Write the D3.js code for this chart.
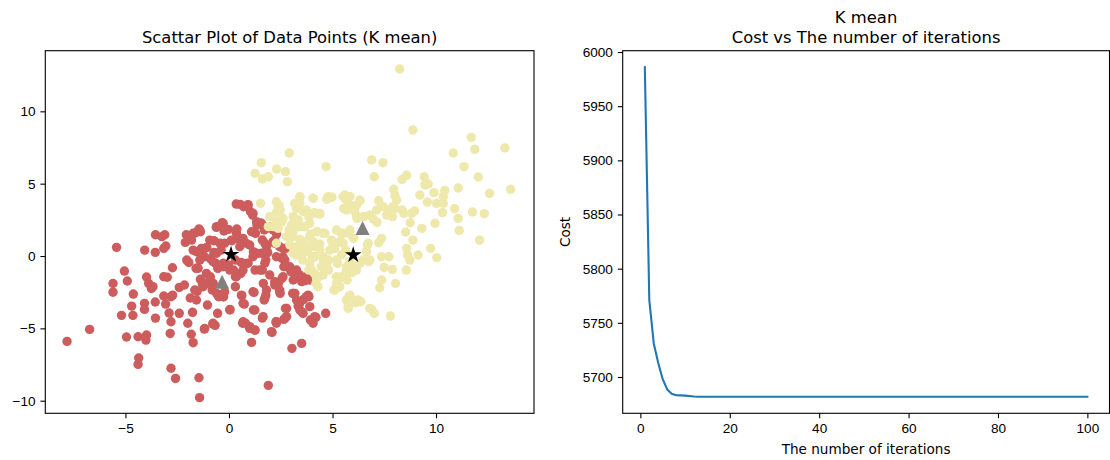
<!DOCTYPE html>
<html>
<head>
<meta charset="utf-8">
<script src="https://cdn.jsdelivr.net/npm/d3@7"></script>
<style>
  body { margin: 0; background: #fff; }
  svg { display: block; font-family: "DejaVu Sans", sans-serif; }
  .tick text { font-size: 13.6px; fill: #000; }
  .tick line { stroke: #000; stroke-width: 1.1; }
</style>
</head>
<body>
<div id="chart"></div>
<script>
// cluster assignments (x, y)
const redPoints = [
  [-7.82,-5.9],[-6.73,-5.07],[-5.43,0.6],[-5.6,-1.9],[-5.6,-2.5],[-5.05,-1.04],[-4.91,-1.73],[-5.19,-4.1],
  [-4.95,-5.6],[-4.7,-3.46],[-4.64,-4.1],[-4.62,-2.63],[-4.36,-7.05],[-4.39,-7.49],[-4.39,-5.58],[-4.07,0.41],
  [-4.08,-3.27],[-4.08,-3.69],[-3.98,-1.45],[-3.98,-5.46],[-4.01,-5.81],[-3.88,-1.89],[-3.75,-2.24],[-3.67,-2.12],
  [-3.56,0.25],[-3.55,-4.29],[-3.56,-3.18],[-3.55,1.47],[-3.24,1.34],[-3.1,1.47],[-3.15,0.53],[-3.05,0.69],
  [-3.15,-1.43],[-2.98,-1.47],[-3.15,-2.76],[-3.06,-3.32],[-2.89,-3.94],[-2.8,-4.54],[-2.8,-2.81],[-2.72,-2.7],
  [-2.73,-0.81],[-2.84,-5.35],[-2.8,-7.76],[-2.58,-8.46],[-2.4,-3.96],[-2.4,-2.17],[-2.15,-2.0],[-2.06,1.47],
  [-2.11,0.94],[-2.04,-0.28],[-1.94,-0.44],[-1.99,-4.65],[-1.87,-2.9],[-1.76,-3.89],[-1.82,-5.41],[-1.73,-5.99],
  [-1.63,1.59],[-1.54,-2.44],[-1.59,-0.85],[-1.45,1.87],[-1.38,1.68],[-1.45,-8.41],[-1.42,-9.79],[-1.51,0.3],
  [-1.33,0.53],[-1.19,-5.05],[-1.18,-0.05],[-1.38,-1.61],[-1.28,-1.94],[-1.04,-3.39],[-1.07,0.6],[-0.9,-0.18],
  [-0.78,-4.7],[-0.67,-4.79],[-0.61,1.98],[-0.73,1.06],[-0.54,-0.85],[-0.55,-3.96],[-0.5,-2.81],[-0.26,-2.81],
  [-0.33,2.3],[-0.24,1.73],[-0.03,1.84],[0.05,-3.69],[0.35,3.59],[0.54,3.57],[0.71,3.41],[0.92,3.55],
  [1.04,3.06],[1.14,2.83],[1.28,1.57],[0.38,1.87],[0.52,1.11],[0.83,0.88],[0.59,-0.44],[0.83,-0.51],
  [0.57,-1.2],[0.62,-2.74],[0.74,-3.32],[0.66,-4.65],[0.8,-4.65],[1.0,-5.0],[1.26,-5.12],[1.09,-5.97],
  [1.18,-3.73],[1.21,-2.51],[1.61,-4.29],[1.66,-1.89],[1.78,-2.7],[1.7,-3.04],[1.9,-8.94],[2.08,-5.28],
  [2.27,-4.54],[2.65,-4.38],[2.73,-3.62],[2.47,-2.58],[2.21,-2.0],[2.39,-1.89],[3.08,-2.58],[3.04,-6.38],
  [3.51,-6.04],[3.34,-3.46],[3.51,-3.85],[3.86,-2.81],[3.6,-3.0],[3.93,-4.42],[4.2,-4.24],[4.67,-3.96],
  [3.51,-1.77],[3.68,-1.7],[3.25,-1.43],[2.99,-1.08],[2.56,-1.54],[2.65,-0.74],[2.56,-0.16],[2.73,0.53],
  [2.21,0.88],[2.3,1.52],[1.7,1.8],[1.61,1.11],[1.73,0.88],[1.87,0.23],[1.78,-0.28],[1.61,-0.97],
  [1.26,-0.97],[1.38,0.18],[1.18,0.3],[1.0,0.76],[1.35,2.14],[1.52,2.26],[1.95,2.03],[2.13,1.8],
  [0.14,1.06],[-0.21,0.88],[-0.38,0.41],[-0.73,0.25],[-0.64,-0.51],[-0.29,-0.74],[-0.03,-0.62],[0.22,-0.97],
  [0.31,-0.28],[-0.9,-1.43],[-0.76,-1.89],[-1.07,-1.89],[-0.81,-2.35],[-0.21,-2.47],[0.31,-2.12],[0.31,-1.43],
  [0.92,3.52],[1.16,2.95],[1.33,2.37],[1.57,2.26],[1.81,1.91],[-0.28,2.26],[-0.6,2.03],[-1.41,1.8],
  [-1.73,1.57],[-0.93,1.1],[-1.17,0.53],[-1.57,0.3],[-1.49,-0.85],[-1.09,-1.2],[-0.93,-1.66],[-1.25,-2.12],
  [-1.65,-2.35],[-1.57,-3.04],[-0.6,-2.58],[-0.28,-2.81],[0.04,-3.73],[-1.17,-5.0],[-0.77,-4.65],[0.6,-2.7],
  [0.68,-3.27],[1.16,-2.47],[1.25,-3.73],[0.68,-4.54],[1.0,-4.88],[1.25,-5.11],[1.65,-4.19],[2.05,-5.23],
  [2.29,-4.54],[2.7,-4.31],[1.73,-2.93],[1.81,-2.35],[2.45,-2.35],[2.21,-1.78],[2.78,-3.62],[3.1,-2.58],
  [3.26,-3.04],[3.42,-3.73],[3.82,-2.7],[3.99,-4.42],[3.66,-1.66],[3.26,-1.43],[2.78,-0.74],[2.61,-0.05],
  [2.45,0.64],[2.13,0.99],[1.81,0.64],[1.57,0.19],[1.73,-0.5],[1.49,-0.97],[1.97,-1.31],[1.16,-0.05],
  [0.92,-0.5],[0.68,-0.97],[0.52,0.64],[0.68,1.22],[1.09,1.68],[0.36,1.57],[0.12,1.1],[-0.44,0.88],
  [-0.6,0.19],[-0.77,-0.39],[-0.28,-0.5],[0.04,-0.97],[0.36,-1.43],[-1.41,-0.28],[-1.81,1.1],[-1.73,0.41],
  [2.21,1.1],[2.61,0.53],[2.29,-0.05],[2.7,-0.28],[2.94,-0.74],[3.26,-0.97],[3.42,-1.31],[3.74,-1.43],
  [3.9,-1.66],[3.1,-1.66],[2.61,-1.43],[2.29,-1.89],[2.45,-2.47],[3.18,-2.58],[3.42,-3.27],[3.74,-2.81],
  [3.9,-3.5],[3.58,-3.96],[4.14,-4.19],[4.06,-4.65],[2.78,-4.19],[2.29,-4.65]
];

const yellowPoints = [
  [8.24,12.93],[8.88,8.71],[11.7,8.2],[11.87,7.37],[10.83,7.12],[13.32,7.47],[11.35,6.18],[12.04,5.46],
  [11.07,4.7],[13.6,4.61],[12.58,4.33],[10.42,4.54],[9.9,4.38],[9.43,5.48],[9.48,4.98],[9.62,4.98],
  [9.22,4.22],[9.58,3.73],[10.35,4.1],[10.35,3.64],[10.31,3.0],[10.9,3.27],[11.07,2.6],[11.76,3.04],
  [12.33,2.93],[11.12,1.77],[12.1,1.1],[9.95,2.26],[9.31,1.91],[8.75,2.3],[8.88,1.1],[8.53,1.66],
  [8.58,0.53],[9.74,0.53],[10.03,-0.12],[9.13,0.07],[8.62,0.07],[8.56,-0.97],[8.04,-1.89],[7.8,-4.15],
  [7.37,-1.66],[7.28,-2.19],[7.49,-0.78],[7.89,-0.92],[7.72,-0.05],[7.37,-0.05],[7.37,1.22],[7.23,0.92],
  [7.15,2.33],[7.23,3.82],[7.44,6.45],[6.89,6.64],[7.02,5.48],[7.96,4.61],[8.01,4.17],[8.1,3.87],
  [8.36,5.3],[8.58,5.58],[7.92,3.41],[7.75,3.18],[7.61,2.83],[7.89,2.72],[8.36,3.18],[8.44,2.95],
  [8.96,3.11],[6.8,2.83],[6.97,2.56],[6.68,0.76],[6.75,-0.39],[6.33,3.82],[6.19,2.6],[6.51,2.72],
  [5.8,4.1],[5.62,3.94],[5.76,3.64],[5.93,3.41],[5.54,3.29],[5.81,1.57],[6.02,1.22],[5.5,1.57],
  [5.36,0.99],[5.64,0.41],[5.93,-0.62],[5.67,-0.74],[5.93,-1.15],[5.55,-1.38],[5.33,-1.54],[5.71,-1.66],
  [5.24,-2.0],[5.07,-2.35],[5.8,-2.81],[5.76,-3.62],[6.11,-3.23],[6.37,-3.16],[6.89,-3.69],[7.02,-3.96],
  [5.07,0.92],[5.02,0.6],[4.78,-0.28],[4.81,-0.97],[4.55,-1.31],[4.33,-1.43],[4.12,-1.2],[4.2,-1.89],
  [4.29,-2.12],[4.69,6.18],[4.72,3.92],[4.98,4.06],[4.07,3.99],[3.43,4.06],[2.91,7.12],[2.73,5.83],
  [2.3,6.01],[1.56,6.45],[1.26,5.71],[1.61,5.32],[1.9,5.48],[2.82,5.14],[1.52,3.64],[2.42,3.48],
  [2.47,3.18],[2.3,3.02],[3.17,3.64],[3.25,3.29],[3.6,3.06],[4.12,3.0],[3.86,2.72],[4.38,2.9],
  [3.34,2.49],[2.3,2.37],[2.56,2.37],[1.9,2.03],[2.91,1.84],[3.65,2.03],[4.26,1.68],[4.55,1.57],
  [3.94,1.52],[3.08,1.34],[3.43,1.15],[3.6,0.76],[4.12,0.65],[4.38,0.83],[3.77,0.3],[3.25,0.07],
  [4.03,-0.09],[3.56,-0.28],[4.55,-0.28],[3.86,-0.97],[4.46,-0.74],[5.24,-0.51],
  [2.37,3.41],[2.29,2.37],[2.37,1.91],[2.94,1.8],[3.1,2.72],[3.42,3.64],[4.06,3.99],[3.66,2.03],
  [4.23,2.95],[4.63,1.57],[5.03,0.76],[3.9,0.64],[3.42,0.19],[4.14,-0.05],[4.71,-0.5],[3.99,-0.97],
  [4.23,-1.54],[5.19,-1.43],[5.35,-2.12],[5.11,-2.35],[5.84,-2.81],[5.75,-3.5],[6.24,-3.04],[5.51,4.1],
  [6.32,3.87],[5.68,3.18],[6.16,2.72],[5.19,1.8],[5.51,0.88],[6.48,-0.28],[5.19,-0.28],
  [7.44,3.41],[7.13,3.18],[8.01,3.29],[8.82,2.95],[10.02,3.64],[9.46,4.91],[8.73,-0.28],[6.72,0.88],
  [6.64,0.3],[6.8,-0.28],[6.32,-0.5],[5.84,-0.39],[6.16,-0.97],[5.67,-1.08],[5.43,-1.43],[5.19,-1.89],
  [5.84,-2.7],[5.67,-3.04],[6.16,-3.16],[6.8,-3.62],[4.63,-0.74],[4.79,-0.28],[4.87,0.41],[5.03,0.99],
  [5.43,1.57],[5.84,1.8],[3.9,-0.5],[4.55,-0.05],[4.39,0.41],[4.06,-0.05],[5.11,0.53],[4.95,1.1],
  [4.23,1.68],[3.9,1.34],[3.58,0.99],[3.26,0.64],[3.5,-0.05],[3.1,0.19],[2.94,0.76],[3.9,2.26],
  [3.42,2.03],[3.1,1.68],[2.78,1.34],[2.29,0.88],[2.29,2.26],[1.97,2.72],[4.39,2.95],[3.74,3.18],
  [3.26,3.64],[3.42,4.1],[4.79,4.1],[5.59,4.22],[5.84,4.1],[5.75,3.41],[6.16,3.52],[6.48,2.72],
  [6.08,3.06],[2.61,2.61],[2.45,3.18],[2.29,3.75],[2.13,2.03],[3.02,2.14],[4.06,0.99],[5.43,0.07]
];

const initialCentroids = [[-0.33, -1.78], [6.45, 1.94]];
const finalCentroids = [[0.1, 0.1], [6.0, 0.07]];

const scatterXTicks = [-5, 0, 5, 10];
const scatterYTicks = [-10, -5, 0, 5, 10];

// cost per iteration
const iterations = d3.range(1, 101);
const cost = [
  5986, 5771, 5731, 5713, 5698, 5688.5, 5684.5, 5683.2, 5683, 5682.8,
  5682.4, 5682, 5681.8, 5681.7, 5681.7, 5681.7, 5681.7, 5681.7, 5681.7, 5681.7,
  5681.7, 5681.7, 5681.7, 5681.7, 5681.7, 5681.7, 5681.7, 5681.7, 5681.7, 5681.7,
  5681.7, 5681.7, 5681.7, 5681.7, 5681.7, 5681.7, 5681.7, 5681.7, 5681.7, 5681.7,
  5681.7, 5681.7, 5681.7, 5681.7, 5681.7, 5681.7, 5681.7, 5681.7, 5681.7, 5681.7,
  5681.7, 5681.7, 5681.7, 5681.7, 5681.7, 5681.7, 5681.7, 5681.7, 5681.7, 5681.7,
  5681.7, 5681.7, 5681.7, 5681.7, 5681.7, 5681.7, 5681.7, 5681.7, 5681.7, 5681.7,
  5681.7, 5681.7, 5681.7, 5681.7, 5681.7, 5681.7, 5681.7, 5681.7, 5681.7, 5681.7,
  5681.7, 5681.7, 5681.7, 5681.7, 5681.7, 5681.7, 5681.7, 5681.7, 5681.7, 5681.7,
  5681.7, 5681.7, 5681.7, 5681.7, 5681.7, 5681.7, 5681.7, 5681.7, 5681.7, 5681.7
];
const costXTicks = [0, 20, 40, 60, 80, 100];
const costYTicks = [5700, 5750, 5800, 5850, 5900, 5950, 6000];

const W = 1110, H = 460;
const TICK = 4.9, PAD = 4.9;

const svg = d3.select("#chart").append("svg")
  .attr("width", W).attr("height", H);

const minusFormat = d => d < 0 ? "\u2212" + Math.abs(d) : String(d);

function styleAxis(g) {
  g.select(".domain").remove();
}

function frame(box) {
  svg.append("rect")
    .attr("x", box.left).attr("y", box.top)
    .attr("width", box.right - box.left).attr("height", box.bottom - box.top)
    .attr("fill", "none").attr("stroke", "#000").attr("stroke-width", 1.1);
}

// ---------- left: scatter ----------
const A = { left: 45.3, right: 534, top: 50.7, bottom: 413.3 };

const x1 = d3.scaleLinear().domain([-8.87, 14.73]).range([A.left, A.right]);
const y1 = d3.scaleLinear().domain([-10.87, 14.19]).range([A.bottom, A.top]);

svg.append("g")
  .attr("transform", `translate(0,${A.bottom})`)
  .call(d3.axisBottom(x1).tickValues(scatterXTicks).tickSize(TICK).tickPadding(PAD).tickFormat(minusFormat))
  .call(styleAxis);

svg.append("g")
  .attr("transform", `translate(${A.left},0)`)
  .call(d3.axisLeft(y1).tickValues(scatterYTicks).tickSize(TICK).tickPadding(PAD).tickFormat(minusFormat))
  .call(styleAxis);

const plot1 = svg.append("g");

plot1.selectAll(".red").data(redPoints).enter()
  .append("circle")
  .attr("class", "red")
  .attr("cx", d => x1(d[0])).attr("cy", d => y1(d[1]))
  .attr("r", 4.7)
  .attr("fill", "#cd5c5c");

plot1.selectAll(".yellow").data(yellowPoints).enter()
  .append("circle")
  .attr("class", "yellow")
  .attr("cx", d => x1(d[0])).attr("cy", d => y1(d[1]))
  .attr("r", 4.7)
  .attr("fill", "#eee8aa");

// matplotlib '^' marker: width equals height
const triangle = "M0,-7L7,7L-7,7Z";
plot1.selectAll(".init").data(initialCentroids).enter()
  .append("path")
  .attr("class", "init")
  .attr("d", triangle)
  .attr("transform", d => `translate(${x1(d[0])},${y1(d[1])})`)
  .attr("fill", "#808080");

plot1.selectAll(".centroid").data(finalCentroids).enter()
  .append("path")
  .attr("class", "centroid")
  .attr("d", d3.symbol().type(d3.symbolStar).size(85))
  .attr("transform", d => `translate(${x1(d[0])},${y1(d[1])})`)
  .attr("fill", "#000");

frame(A);

svg.append("text")
  .attr("x", (A.left + A.right) / 2).attr("y", 43)
  .attr("text-anchor", "middle")
  .attr("font-size", 16.4)
  .text("Scattar Plot of Data Points (K mean)");

// ---------- right: cost curve ----------
const B = { left: 622.7, right: 1109.5, top: 50.7, bottom: 413.3 };

const x2 = d3.scaleLinear()
  .domain([1 - 0.05 * 99, 100 + 0.05 * 99])
  .range([B.left, B.right]);
const yMin = d3.min(cost), yMax = d3.max(cost), ySpan = yMax - yMin;
const y2 = d3.scaleLinear()
  .domain([yMin - 0.05 * ySpan, yMax + 0.05 * ySpan])
  .range([B.bottom, B.top]);

svg.append("g")
  .attr("transform", `translate(0,${B.bottom})`)
  .call(d3.axisBottom(x2).tickValues(costXTicks).tickSize(TICK).tickPadding(PAD).tickFormat(d3.format("d")))
  .call(styleAxis);

svg.append("g")
  .attr("transform", `translate(${B.left},0)`)
  .call(d3.axisLeft(y2).tickValues(costYTicks).tickSize(TICK).tickPadding(PAD).tickFormat(d3.format("d")))
  .call(styleAxis);

const line = d3.line()
  .x((d, i) => x2(iterations[i]))
  .y(d => y2(d));

svg.append("path")
  .datum(cost)
  .attr("d", line)
  .attr("fill", "none")
  .attr("stroke", "#1f77b4")
  .attr("stroke-width", 2.1)
  .attr("stroke-linejoin", "round")
  .attr("stroke-linecap", "square");

frame(B);

svg.append("text")
  .attr("x", (B.left + B.right) / 2).attr("y", 23)
  .attr("text-anchor", "middle")
  .attr("font-size", 16.4)
  .text("K mean");

svg.append("text")
  .attr("x", (B.left + B.right) / 2).attr("y", 43)
  .attr("text-anchor", "middle")
  .attr("font-size", 16.4)
  .text("Cost vs The number of iterations");

svg.append("text")
  .attr("x", (B.left + B.right) / 2).attr("y", 454)
  .attr("text-anchor", "middle")
  .attr("font-size", 13.6)
  .text("The number of iterations");

svg.append("text")
  .attr("transform", `translate(570,${(B.top + B.bottom) / 2}) rotate(-90)`)
  .attr("text-anchor", "middle")
  .attr("font-size", 13.6)
  .text("Cost");
</script>
</body>
</html>
